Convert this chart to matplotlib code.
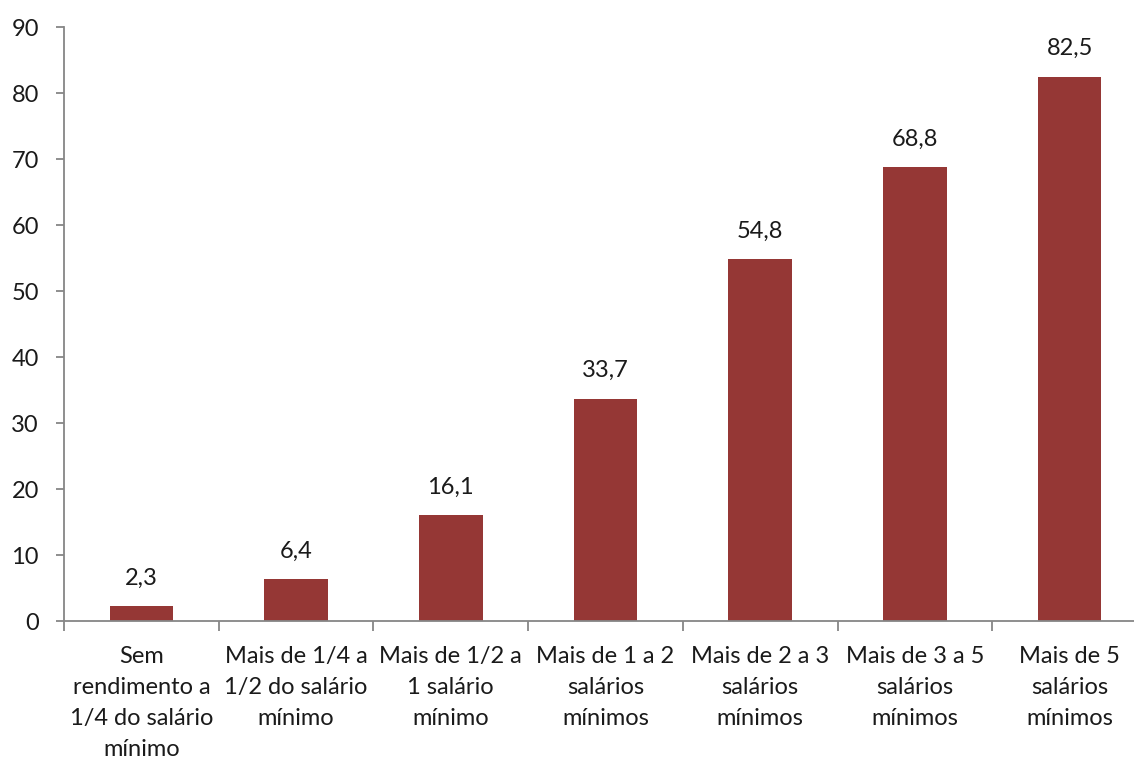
import matplotlib
matplotlib.use("Agg")
import matplotlib.pyplot as plt
import numpy as np

categorias = [
    "Sem\nrendimento a\n1/4 do salário\nmínimo",
    "Mais de 1/4 a\n1/2 do salário\nmínimo",
    "Mais de 1/2 a\n1 salário\nmínimo",
    "Mais de 1 a 2\nsalários\nmínimos",
    "Mais de 2 a 3\nsalários\nmínimos",
    "Mais de 3 a 5\nsalários\nmínimos",
    "Mais de 5\nsalários\nmínimos",
]
valores = [2.3, 6.4, 16.1, 33.7, 54.8, 68.8, 82.5]
yticks = [0, 10, 20, 30, 40, 50, 60, 70, 80, 90]

plt.rcParams["font.family"] = ["Lato", "DejaVu Sans"]
fs = 17

fig = plt.figure(figsize=(11.34, 7.62), dpi=100)
# o eixo passa um pouco da borda direita
ax = fig.add_axes([64 / 1134, 1 - 621 / 762, 1083 / 1134, 594 / 762])

cinza = "#868686"
x = np.arange(len(valores))
ax.bar(x, valores, width=0.41, color="#953735", zorder=2)

for xi, v in zip(x, valores):
    ax.annotate(f"{v:.1f}".replace(".", ","), (xi, v), xytext=(0, 20),
                textcoords="offset points", ha="center", va="center",
                fontsize=fs, color="#1a1a1a")

ax.set_xlim(-0.5, len(valores) - 0.5)
ax.set_ylim(0, 90)
ax.set_yticks(yticks)
ax.set_yticklabels([str(t) for t in yticks])

ax.set_xticks(x)
ax.set_xticklabels(categorias, fontsize=fs, linespacing=1.58, color="#1a1a1a")
ax.set_xticks(np.arange(len(valores) + 1) - 0.5, minor=True)
ax.tick_params(axis="x", which="major", length=0, pad=18)
ax.tick_params(axis="x", which="minor", length=7, width=1.3, color=cinza, direction="out")
ax.tick_params(axis="y", length=6, width=1.3, color=cinza, pad=12, labelsize=fs,
               labelcolor="#1a1a1a")

for s in ["top", "right"]:
    ax.spines[s].set_visible(False)
for s in ["left", "bottom"]:
    ax.spines[s].set_color(cinza)
    ax.spines[s].set_linewidth(1.3)

fig.savefig("out.png", dpi=100)
